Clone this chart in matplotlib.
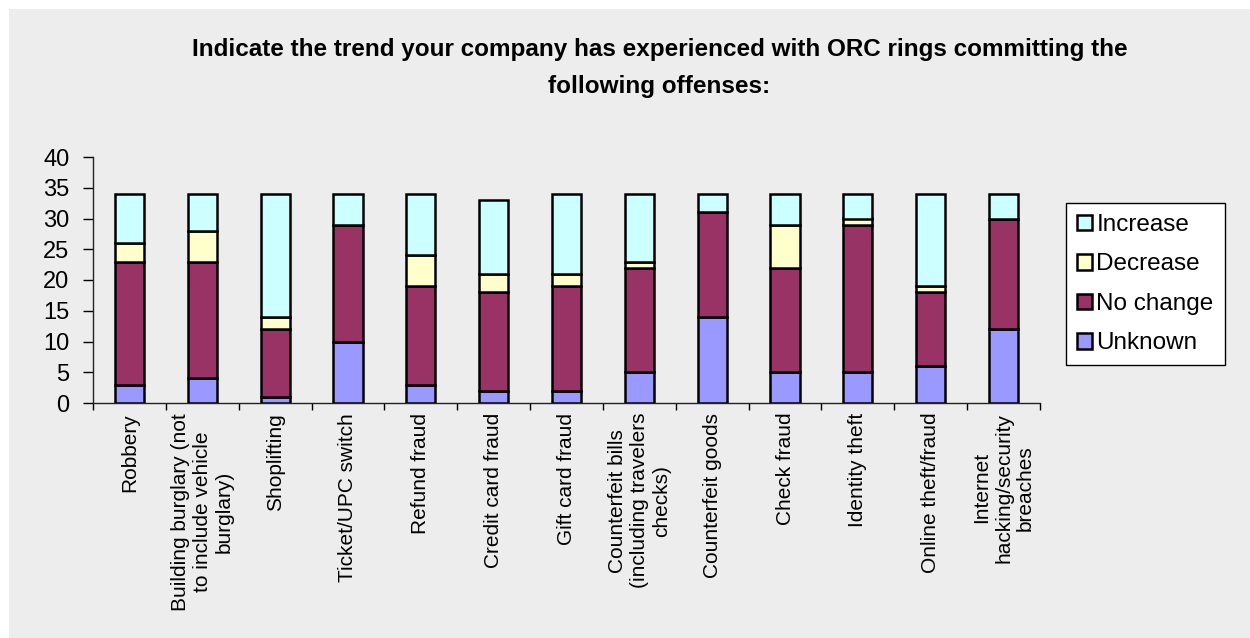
import matplotlib
matplotlib.use("Agg")
import matplotlib.pyplot as plt
import numpy as np
from matplotlib.patches import Rectangle

plt.rcParams["font.family"] = ["Liberation Sans", "DejaVu Sans"]

categories = [
    "Robbery",
    "Building burglary (not\nto include vehicle\nburglary)",
    "Shoplifting",
    "Ticket/UPC switch",
    "Refund fraud",
    "Credit card fraud",
    "Gift card fraud",
    "Counterfeit bills\n(including travelers\nchecks)",
    "Counterfeit goods",
    "Check fraud",
    "Identity theft",
    "Online theft/fraud",
    "Internet\nhacking/security\nbreaches",
]
unknown = [3, 4, 1, 10, 3, 2, 2, 5, 14, 5, 5, 6, 12]
no_change = [20, 19, 11, 19, 16, 16, 17, 17, 17, 17, 24, 12, 18]
decrease = [3, 5, 2, 0, 5, 3, 2, 1, 0, 7, 1, 1, 0]
increase = [8, 6, 20, 5, 10, 12, 13, 11, 3, 5, 4, 15, 4]

series = [
    ("Unknown", unknown, "#9999FF"),
    ("No change", no_change, "#993366"),
    ("Decrease", decrease, "#FFFFCC"),
    ("Increase", increase, "#CCFFFF"),
]

W, H = 1250, 638
fig = plt.figure(figsize=(W / 100, H / 100), dpi=100)
fig.patch.set_facecolor("white")
fig.patches.append(Rectangle((9 / W, 0), 1 - 9 / W, 1 - 9 / H,
                             transform=fig.transFigure, facecolor="#EDEDED",
                             edgecolor="none", zorder=-10))

ax = fig.add_axes([93 / W, 1 - 403 / H, (1040 - 93) / W, (403 - 157) / H])
ax.set_facecolor("none")

x = np.arange(len(categories))
bottom = np.zeros(len(categories))
handles = {}
for name, vals, color in series:
    vals = np.array(vals, dtype=float)
    b = ax.bar(x, vals, 0.4, bottom=bottom, color=color, edgecolor="black",
               linewidth=1.8, label=name, zorder=3)
    handles[name] = b
    bottom += vals

ax.set_xlim(-0.5, len(categories) - 0.5)
ax.set_ylim(0, 40)
ax.set_yticks(range(0, 41, 5))
ax.tick_params(axis="y", labelsize=17, length=7, width=1.0, direction="out", pad=10)
ax.set_xticks(np.arange(len(categories) + 1) - 0.5)
ax.set_xticklabels([])
ax.tick_params(axis="x", length=5, width=1.0, direction="out")
for s in ("top", "right"):
    ax.spines[s].set_visible(False)
for s in ("left", "bottom"):
    ax.spines[s].set_color("#222222")
    ax.spines[s].set_linewidth(1.0)

# category names hang below the axis, read bottom-to-top
for i, lab in enumerate(categories):
    ax.text(i, -1.6, lab, rotation=90, ha="center", va="top",
            multialignment="center", fontsize=15, linespacing=1.2)

order = ["Increase", "Decrease", "No change", "Unknown"]
leg = fig.legend([handles[n] for n in order], order, loc="upper left",
                 bbox_to_anchor=(1066 / W, 1 - 203 / H), fontsize=17.5,
                 frameon=True, fancybox=False, handlelength=0.6,
                 handleheight=0.6, handletextpad=0.2, labelspacing=0.72,
                 borderpad=0.45, borderaxespad=0)
leg.get_frame().set_edgecolor("black")
leg.get_frame().set_linewidth(1.0)
leg.get_frame().set_facecolor("white")
leg.get_frame().set_alpha(1)

fig.text(659.5 / W, 1 - 68 / H,
         "Indicate the trend your company has experienced with ORC rings committing the\nfollowing offenses:",
         ha="center", va="center", fontsize=17.5, fontweight="bold", linespacing=1.75)

fig.savefig("out.png", dpi=100, facecolor=fig.get_facecolor())
